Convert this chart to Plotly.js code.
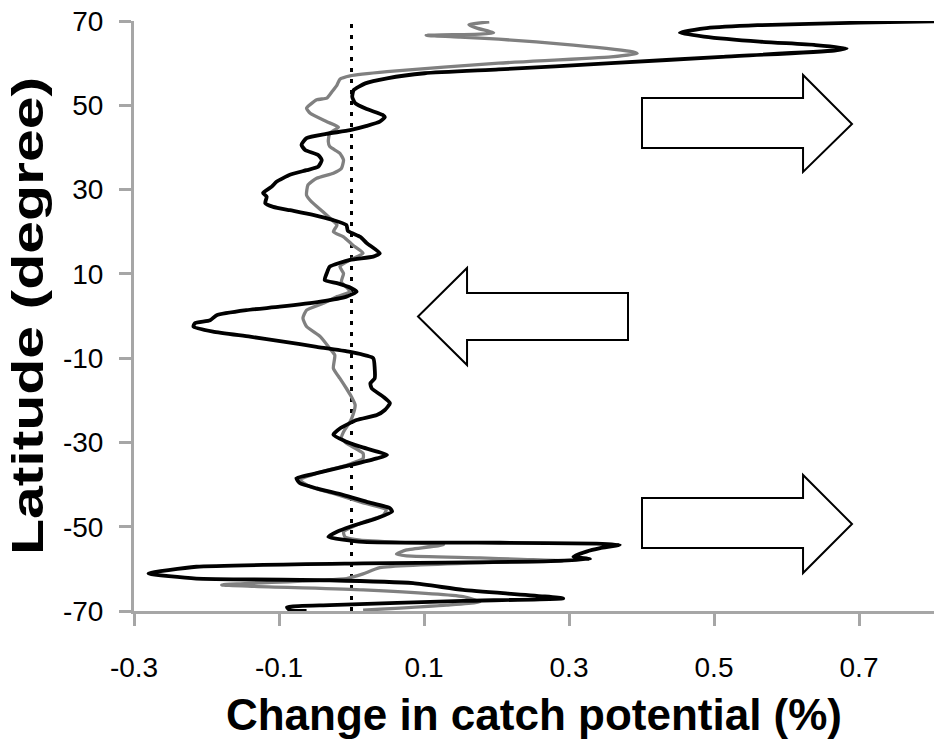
<!DOCTYPE html>
<html><head><meta charset="utf-8">
<script src="https://cdn.plot.ly/plotly-3.0.1.min.js"></script>
<style>html,body{margin:0;padding:0;background:#fff;}#chart{width:934px;height:744px;}</style>
</head><body><div id="chart"></div>
<script>
// Series: change in catch potential (%) by latitude (degree)
const blackX = [0.83,0.70,0.56,0.49,0.453,0.486,0.563,0.640,0.683,0.666,0.511,0.358,0.203,0.101,0.049,0.019,0.003,0.001,0.005,0.021,0.043,0.046,0.039,0.021,-0.002,-0.035,-0.062,-0.069,-0.064,-0.046,-0.041,-0.046,-0.062,-0.085,-0.103,-0.110,-0.122,-0.117,-0.119,-0.108,-0.085,-0.053,-0.026,-0.007,-0.005,0.012,0.021,0.039,0.030,-0.002,-0.030,-0.034,-0.037,-0.020,0.000,0.007,-0.007,-0.043,-0.099,-0.145,-0.186,-0.195,-0.216,-0.218,-0.191,-0.140,-0.094,-0.048,-0.002,0.030,0.032,0.032,0.026,0.028,0.044,0.053,0.046,0.035,0.007,-0.016,-0.025,-0.009,0.012,0.049,0.035,-0.002,-0.048,-0.076,-0.071,-0.048,-0.011,0.021,0.053,0.056,0.035,-0.002,-0.020,-0.032,0.016,0.205,0.338,0.370,0.343,0.324,0.306,0.329,0.246,0.016,-0.214,-0.280,-0.214,-0.030,0.085,0.154,0.292,0.154,-0.030,-0.089,-0.085,-0.062];
const blackLat = [70.0,69.6,69.0,68.3,67.2,66.3,65.1,64.3,63.5,63.0,61.5,60.0,58.5,57.6,56.4,55.2,53.6,52.0,50.5,49.1,47.7,47.2,46.1,45.1,44.1,43.2,42.2,40.6,39.4,38.2,37.0,35.4,34.6,33.5,31.9,30.7,29.2,28.3,26.8,25.9,25.1,24.0,22.8,21.6,20.2,18.8,17.3,14.9,14.1,13.3,11.7,10.2,8.5,7.8,6.6,5.8,4.6,3.4,2.2,1.4,0.2,-1.0,-1.7,-2.5,-3.7,-4.9,-6.1,-7.3,-8.5,-10.0,-12.4,-14.8,-16.0,-17.2,-19.2,-20.7,-22.3,-23.5,-24.7,-26.7,-28.2,-29.7,-31.0,-33.0,-33.8,-35.4,-37.3,-38.5,-39.7,-40.9,-42.5,-44.1,-45.6,-46.4,-48.0,-50.0,-51.2,-52.4,-53.6,-53.8,-54.0,-54.3,-55.1,-55.9,-57.1,-57.7,-58.3,-58.7,-59.5,-61.1,-62.3,-62.7,-63.4,-65.0,-67.0,-67.6,-68.6,-69.1,-69.8,-70.0];

const grayX = [0.190,0.162,0.173,0.196,0.177,0.103,0.150,0.203,0.306,0.388,0.394,0.358,0.203,0.049,-0.002,-0.016,-0.020,-0.027,-0.034,-0.048,-0.062,-0.057,-0.034,-0.018,-0.030,-0.032,-0.030,-0.016,-0.011,-0.014,-0.025,-0.048,-0.060,-0.062,-0.055,-0.039,-0.027,-0.020,-0.025,-0.011,0.002,0.016,-0.002,-0.016,-0.011,-0.014,-0.002,-0.020,-0.039,-0.062,-0.067,-0.062,-0.043,-0.030,-0.023,-0.025,-0.016,-0.007,0.000,0.005,0.002,-0.002,-0.011,-0.014,-0.007,0.016,0.016,-0.007,-0.048,-0.071,-0.057,-0.025,0.012,0.048,0.044,0.012,-0.011,-0.009,0.012,0.127,0.076,0.062,0.076,0.177,0.292,0.205,0.039,0.016,-0.007,-0.179,0.016,0.154,0.177,0.131,0.016];
const grayLat = [69.8,69.1,68.3,67.2,66.9,66.6,66.2,65.7,64.3,62.7,62.3,61.5,60.0,58.0,57.0,56.2,54.8,53.2,51.7,51.3,49.3,48.1,46.1,44.8,43.4,41.4,40.2,38.6,37.0,35.0,33.9,32.7,31.1,28.7,27.1,24.7,22.8,21.6,20.0,18.8,16.8,14.9,13.3,11.7,10.1,8.1,5.8,4.6,3.0,1.4,-0.5,-2.5,-4.9,-7.7,-9.3,-12.4,-14.8,-17.2,-19.2,-21.1,-23.5,-25.1,-27.5,-29.0,-30.2,-32.6,-33.8,-35.4,-37.3,-38.9,-40.5,-42.1,-44.1,-46.0,-47.2,-49.2,-51.2,-52.4,-53.2,-54.3,-55.5,-56.5,-56.9,-57.4,-58.1,-58.4,-59.7,-61.2,-62.3,-63.8,-65.0,-66.6,-67.8,-68.6,-69.8];

const xTickVals = [-0.3,-0.1,0.1,0.3,0.5,0.7];
const xTickText = ['-0.3','-0.1','0.1','0.3','0.5','0.7'];
const yTickVals = [70,50,30,10,-10,-30,-50,-70];
const yTickText = ['70','50','30','10','-10','-30','-50','-70'];

const FONT = 'Liberation Sans, Arial, sans-serif';
const M = {l:134, r:0, t:21, b:133};
const W = 934, H = 744;
const PW = W - M.l - M.r, PH = H - M.t - M.b;
function P(px, py){ return ((px - M.l)/PW).toFixed(4) + ',' + ((H - M.b - py)/PH).toFixed(4); }
function arrowPath(pts){ return 'M' + pts.map(p => P(p[0], p[1])).join(' L') + ' Z'; }
function arrowShape(pts){
  return {type:'path', xref:'paper', yref:'paper', path: arrowPath(pts),
          fillcolor:'#ffffff', line:{color:'#000000', width:2}, layer:'above'};
}
const arrows = [
  [[642,98],[803,98],[803,75],[852,124],[803,172],[803,148],[642,148]],
  [[628,293],[467,293],[467,268],[418,316.5],[467,365],[467,340],[628,340]],
  [[642,498],[803,498],[803,475],[852,524],[803,573],[803,548],[642,548]]
];

const traces = [
  {x: grayX, y: grayLat, type:'scatter', mode:'lines', line:{color:'#808080', width:3.3, shape:'spline', smoothing:0.5}, hoverinfo:'skip'},
  {x: blackX, y: blackLat, type:'scatter', mode:'lines', line:{color:'#000000', width:3.8, shape:'spline', smoothing:0.5}, hoverinfo:'skip'}
];

const axisCommon = {
  showline:true, linecolor:'#A6A6A6', linewidth:3, mirror:false,
  ticks:'outside', ticklen:12, tickwidth:3, tickcolor:'#A6A6A6',
  showgrid:false, zeroline:false, fixedrange:true,
  tickfont:{family:FONT, size:28, color:'#000000'}
};

const layout = {
  width:W, height:H, margin:M,
  paper_bgcolor:'#ffffff', plot_bgcolor:'#ffffff',
  showlegend:false, hovermode:false,
  font:{family:FONT, color:'#000000'},
  xaxis: Object.assign({}, axisCommon, {
    range:[-0.3, -0.3 + 0.2*PW/145], tickmode:'array', tickvals:xTickVals, ticktext:xTickText,
    ticklabelstandoff:17,
    title:{text:'<b>Change in catch potential (%)</b>', font:{family:FONT, size:44, color:'#000000'}, standoff:18}
  }),
  yaxis: Object.assign({}, axisCommon, {
    range:[-70, 70], tickmode:'array', tickvals:yTickVals, ticktext:yTickText,
    ticklabelstandoff:10,
    title:{text:'<b>Latitude (degree)</b>', font:{family:FONT, size:44, color:'#000000'}, standoff:6}
  }),
  shapes: [
    {type:'line', xref:'x', yref:'y', x0:0, x1:0, y0:-70, y1:70, layer:'below',
     line:{color:'#000000', width:3, dash:'4px,7px'}}
  ].concat(arrows.map(arrowShape))
};

Plotly.newPlot('chart', traces, layout, {staticPlot:true, displayModeBar:false}).then(function(){
  // the reference's y title is elongated along its reading direction
  const t = document.querySelector('.ytitle');
  if (t) {
    const x = parseFloat(t.getAttribute('x')), y = parseFloat(t.getAttribute('y'));
    t.setAttribute('transform', 'rotate(-90,' + x + ',' + y + ') translate(' + x + ',' + y + ') scale(1.34,1) translate(' + (-x) + ',' + (-y) + ')');
  }
});
</script></body></html>
